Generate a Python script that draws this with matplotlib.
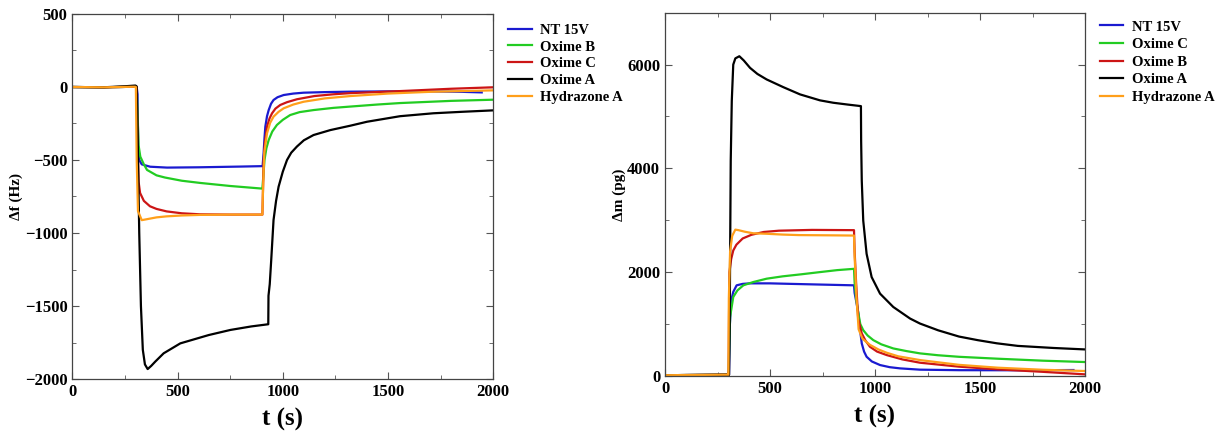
import matplotlib
matplotlib.use("Agg")
import matplotlib.pyplot as plt
from matplotlib.ticker import MultipleLocator

plt.rcParams['font.family'] = ['Liberation Serif', 'DejaVu Serif']
plt.rcParams['font.weight'] = 'bold'

# colours
c_blue = "#1a1ad0"
c_green = "#22cc22"
c_red = "#cc1515"
c_black = "#000000"
c_orange = "#ff9f1a"

# ---- left panel: frequency shift (Hz)
nt_t = [0, 150, 300, 306, 310, 313, 318, 330, 370, 450, 600, 800, 904, 909, 913, 917, 925, 933, 944, 956, 975, 1004, 1050, 1099, 1200, 1321, 1500, 1700, 1850, 1945]
nt_f = [0, -2, 2, 0, -50, -400, -500, -530, -546, -552, -550, -545, -542, -450, -350, -272, -200, -158, -115, -89, -70, -55, -45, -39, -35, -32, -30, -30, -33, -37]

ob_t = [0, 150, 300, 306, 310, 315, 323, 340, 355, 400, 440, 520, 607, 750, 903, 908, 913, 922, 933, 950, 972, 1000, 1035, 1080, 1146, 1240, 1321, 1450, 1557, 1800, 2000]
ob_f = [0, -2, 2, 0, -200, -400, -477, -530, -568, -605, -620, -642, -657, -678, -696, -600, -500, -420, -363, -305, -260, -225, -192, -172, -158, -143, -134, -120, -110, -95, -87]

oc_t = [0, 150, 300, 306, 310, 315, 322, 340, 369, 400, 448, 520, 607, 750, 903, 906, 909, 915, 925, 937, 949, 965, 988, 1020, 1067, 1150, 1240, 1321, 1557, 1800, 2000]
oc_f = [0, -2, 2, 0, -400, -650, -726, -780, -817, -835, -852, -865, -872, -874, -874, -700, -500, -380, -272, -215, -180, -148, -123, -104, -84, -62, -50, -42, -28, -12, -2]

oa_t = [0, 150, 250, 300, 305, 310, 318, 326, 335, 345, 358, 375, 394, 434, 513, 648, 751, 850, 931, 932, 938, 945, 956, 968, 980, 1000, 1020, 1040, 1067, 1100, 1146, 1226, 1321, 1400, 1557, 1715, 1850, 2000]
oa_f = [0, -2, 5, 10, 5, -300, -1000, -1500, -1800, -1900, -1932, -1910, -1881, -1824, -1756, -1699, -1664, -1640, -1625, -1430, -1350, -1185, -911, -780, -683, -580, -500, -450, -408, -365, -329, -295, -265, -238, -200, -180, -170, -160]

ha_t = [0, 150, 298, 302, 306, 312, 330, 345, 400, 448, 520, 607, 750, 903, 906, 912, 925, 940, 956, 980, 1004, 1050, 1099, 1200, 1321, 1500, 1700, 2000]
ha_f = [0, -2, 2, 0, -500, -850, -912, -908, -893, -886, -880, -876, -874, -874, -700, -450, -317, -245, -203, -170, -146, -120, -101, -78, -62, -45, -33, -23]

# ---- right panel: mass change (pg)
mnt_t = [0, 150, 300, 305, 306, 309, 315, 325, 341, 370, 405, 500, 600, 738, 900, 903, 910, 921, 930, 937, 948, 960, 985, 1024, 1070, 1119, 1214, 1400, 1700, 1945]
mnt_m = [15, 20, 25, 25, 300, 1000, 1450, 1620, 1747, 1775, 1785, 1785, 1775, 1762, 1747, 1600, 1450, 1203, 850, 627, 470, 371, 280, 211, 170, 147, 122, 112, 110, 115]

moc_t = [0, 150, 300, 303, 306, 310, 325, 345, 373, 420, 484, 560, 650, 738, 820, 900, 903, 910, 921, 930, 944, 965, 992, 1030, 1087, 1150, 1214, 1300, 1400, 1585, 1800, 2000]
moc_m = [15, 20, 25, 25, 600, 1138, 1522, 1650, 1747, 1810, 1875, 1920, 1960, 2002, 2040, 2065, 1800, 1500, 1203, 1000, 883, 780, 691, 610, 531, 480, 436, 400, 370, 333, 295, 269]

mob_t = [0, 150, 300, 303, 305, 307, 315, 325, 340, 370, 411, 470, 543, 700, 900, 903, 910, 920, 937, 955, 976, 1010, 1056, 1130, 1214, 1400, 1585, 1800, 2000]
mob_m = [15, 20, 25, 25, 1200, 2000, 2250, 2418, 2530, 2650, 2720, 2775, 2800, 2815, 2810, 2400, 1800, 1100, 820, 680, 563, 470, 403, 320, 256, 180, 128, 80, 32]

moa_t = [0, 150, 300, 305, 308, 313, 318, 325, 335, 354, 375, 405, 440, 484, 563, 643, 738, 801, 870, 929, 933, 934, 937, 944, 960, 984, 1024, 1087, 1167, 1214, 1301, 1400, 1490, 1580, 1680, 1850, 2000]
moa_m = [15, 20, 25, 25, 1000, 4146, 5300, 6000, 6120, 6161, 6080, 5937, 5820, 5714, 5566, 5426, 5311, 5265, 5230, 5202, 5200, 4530, 3762, 2994, 2354, 1906, 1587, 1330, 1107, 1011, 880, 760, 690, 630, 580, 540, 512]

mha_t = [0, 150, 300, 302, 304, 310, 320, 335, 350, 380, 420, 487, 560, 638, 800, 900, 903, 912, 922, 940, 976, 1017, 1056, 1110, 1214, 1400, 1585, 1800, 2000]
mha_m = [15, 20, 25, 25, 1500, 2400, 2700, 2820, 2810, 2780, 2750, 2740, 2725, 2715, 2710, 2706, 2300, 1500, 900, 720, 600, 510, 448, 380, 307, 215, 160, 120, 96]

fig = plt.figure(figsize=(12.24, 4.32), dpi=100)
ax1 = fig.add_axes([72.3 / 1224, 1 - 379 / 432, 421 / 1224, 365 / 432])
ax2 = fig.add_axes([665 / 1224, 1 - 376 / 432, 420 / 1224, 363.3 / 432])

lw = 1.6
ax1.plot(nt_t, nt_f, color=c_blue, lw=lw, label="NT 15V")
ax1.plot(ob_t, ob_f, color=c_green, lw=lw, label="Oxime B")
ax1.plot(oc_t, oc_f, color=c_red, lw=lw, label="Oxime C")
ax1.plot(oa_t, oa_f, color=c_black, lw=lw, label="Oxime A")
ax1.plot(ha_t, ha_f, color=c_orange, lw=lw, label="Hydrazone A")

ax2.plot(mnt_t, mnt_m, color=c_blue, lw=lw, label="NT 15V")
ax2.plot(moc_t, moc_m, color=c_green, lw=lw, label="Oxime C")
ax2.plot(mob_t, mob_m, color=c_red, lw=lw, label="Oxime B")
ax2.plot(moa_t, moa_m, color=c_black, lw=lw, label="Oxime A")
ax2.plot(mha_t, mha_m, color=c_orange, lw=lw, label="Hydrazone A")

ax1.set_xlim(0, 2000)
ax1.set_ylim(-2000, 500)
ax1.yaxis.set_major_locator(MultipleLocator(500))
ax1.yaxis.set_minor_locator(MultipleLocator(250))
ax1.set_ylabel("Δf (Hz)", fontsize=11, fontweight='bold', labelpad=1)

ax2.set_xlim(0, 2000)
ax2.set_ylim(0, 7000)
ax2.yaxis.set_major_locator(MultipleLocator(2000))
ax2.yaxis.set_minor_locator(MultipleLocator(1000))
ax2.set_ylabel("Δm (pg)", fontsize=11, fontweight='bold', labelpad=1)

for ax in (ax1, ax2):
    ax.xaxis.set_major_locator(MultipleLocator(500))
    ax.xaxis.set_minor_locator(MultipleLocator(250))
    ax.tick_params(which='both', direction='in', top=True, right=True, labelsize=12)
    ax.tick_params(which='major', length=5, width=0.8, color='#555555')
    ax.tick_params(which='minor', length=3, width=0.6, color='#555555')
    for lbl in ax.get_xticklabels() + ax.get_yticklabels():
        lbl.set_fontweight('bold')
    ax.set_xlabel("t (s)", fontsize=18, fontweight='bold', labelpad=6)
    for s in ax.spines.values():
        s.set_linewidth(0.9)
        s.set_color('#444444')

ax1.legend(loc='upper left', bbox_to_anchor=(1.022, 0.99), frameon=False,
           prop={'weight': 'bold', 'size': 10.5}, handlelength=1.6,
           handletextpad=0.6, labelspacing=0.25, borderaxespad=0)
ax2.legend(loc='upper left', bbox_to_anchor=(1.021, 0.995), frameon=False,
           prop={'weight': 'bold', 'size': 10.5}, handlelength=1.6,
           handletextpad=0.6, labelspacing=0.3, borderaxespad=0)

fig.savefig("out.png", dpi=100)
